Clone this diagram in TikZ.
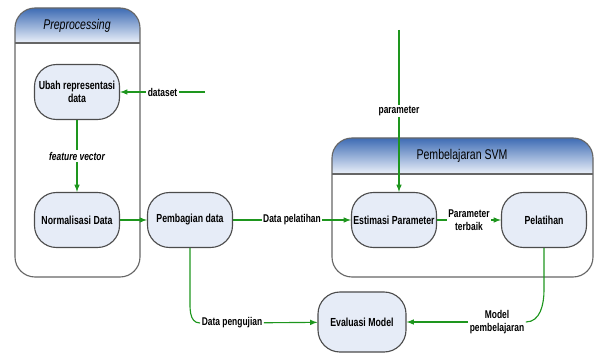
\documentclass[tikz,border=0pt]{standalone}
\usepackage{fontspec}
\setmainfont[FakeStretch=0.75]{Liberation Sans}

\definecolor{flowgreen}{RGB}{30,150,30}
\definecolor{boxfill}{RGB}{230,236,247}
\definecolor{hdrdark}{RGB}{62,108,180}
\definecolor{hdrlight}{RGB}{236,241,250}

\tikzset{
  proc/.style={rounded corners=0.55cm, draw=black!70, fill=boxfill, line width=0.8pt,
    minimum width=2.125cm, minimum height=1.375cm, inner sep=1pt, align=center,
    font=\fontsize{8.3}{9.5}\selectfont\bfseries},
  flow/.style={draw=flowgreen, line width=0.8pt},
  lbl/.style={fill=white, inner sep=1pt, align=center, font=\fontsize{8}{9}\selectfont\bfseries},
  swim/.style={draw=black!60, line width=0.8pt, rounded corners=0.5cm},
  swimtitle/.style={font=\fontsize{10}{12}\selectfont},
}

\begin{document}
\begin{tikzpicture}[x=0.025cm, y=-0.025cm, >=latex]
      \useasboundingbox (0,0) rectangle (597,354);

      % Containers
      \shade[top color=hdrdark, bottom color=hdrlight] (15,43) [rounded corners=0.5cm] -- (15,8) -- (140,8) [sharp corners] -- (140,43) -- cycle;
      \draw[swim] (15,8) rectangle (140,277);
      \draw[black!60, line width=0.8pt] (15,43) -- (140,43);
      \node[swimtitle, font=\fontsize{10}{12}\selectfont\itshape] (pretitle) at (77,26) {Preprocessing};

      \shade[top color=hdrdark, bottom color=hdrlight] (332,174) [rounded corners=0.5cm] -- (332,138) -- (593,138) [sharp corners] -- (593,174) -- cycle;
      \draw[swim] (332,138) rectangle (593,277);
      \draw[black!60, line width=0.8pt] (332,174) -- (593,174);
      \node[swimtitle] (svmtitle) at (462,156) {Pembelajaran SVM};

      % Nodes
      \node[proc] at (77,92) (ubah) {Ubah representasi\\data};
      \node[proc] at (77,220) (norm) {Normalisasi Data};
      \node[proc] at (190,220) (bagi) {Pembagian data};
      \node[proc] at (394,220) (estim) {Estimasi Parameter};
      \node[proc] at (544,220) (latih) {Pelatihan};
      \node[proc, minimum width=2.2cm, minimum height=1.5cm] at (362,322) (eval) {Evaluasi Model};

      \coordinate (dsin) at (205,92);
      \coordinate (parin) at (399,30);
      \coordinate (bend1) at (190,295);
      \coordinate (bend2) at (544,290);
      \node[lbl] at (232,323) (lpeng) {Data pengujian};
      \node[lbl] at (497,322) (lmodel) {Model\\pembelajaran};

      % Edges
      \draw[flow, ->] (dsin) -- node[lbl] {dataset} (ubah.east);
      \draw[flow, ->] (ubah) -- node[lbl, font=\fontsize{8}{9}\selectfont\bfseries\itshape] {feature vector} (norm);
      \draw[flow, ->] (norm) -- (bagi);
      \draw[flow, ->] (bagi) -- node[lbl] {Data pelatihan} (estim);
      \draw[flow, ->] (parin) -- node[lbl] {parameter} (parin |- estim.north);
      \draw[flow, ->] (estim) -- node[lbl] {Parameter\\terbaik} (latih);
      \draw[flow] (bagi.south) -- (bend1) to[out=-90, in=180] (lpeng.west);
      \draw[flow, ->] (lpeng) -- (eval);
      \draw[flow] (latih.south) -- (bend2) to[out=-90, in=0] (lmodel.east);
      \draw[flow, ->] (lmodel) -- (eval);
    \end{tikzpicture}
\end{document}
